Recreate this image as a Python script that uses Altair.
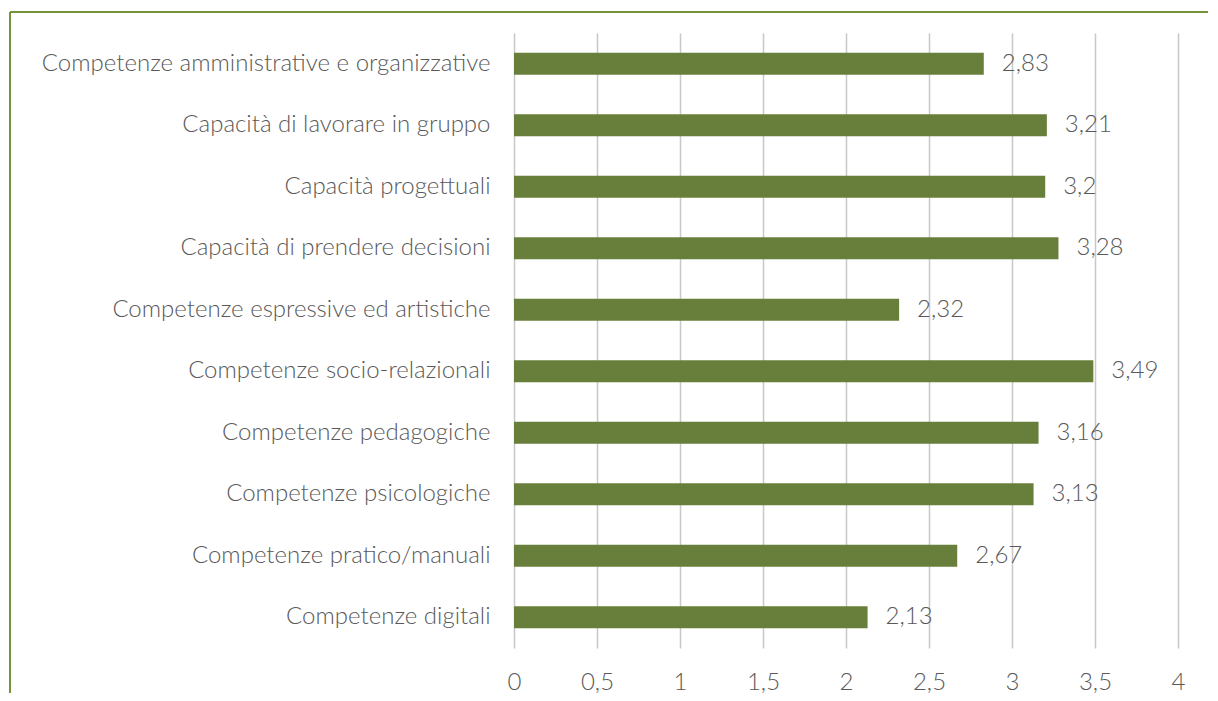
import altair as alt
import pandas as pd

categories = [
    "Competenze amministrative e organizzative",
    "Capacità di lavorare in gruppo",
    "Capacità progettuali",
    "Capacità di prendere decisioni",
    "Competenze espressive ed artistiche",
    "Competenze socio-relazionali",
    "Competenze pedagogiche",
    "Competenze psicologiche",
    "Competenze pratico/manuali",
    "Competenze digitali",
]
values = [2.83, 3.21, 3.2, 3.28, 2.32, 3.49, 3.16, 3.13, 2.67, 2.13]
x_ticks = [0, 0.5, 1, 1.5, 2, 2.5, 3, 3.5, 4]

df = pd.DataFrame({"cat": categories, "val": values})
df["label"] = [f"{v:g}".replace(".", ",") for v in values]

FONT = "Lato"
FS = 24
FW = 300
GREEN = "#687f3b"
TEXT = "#595959"

W, H = 664, 615

y_enc = alt.Y("cat:N", sort=categories, title=None,
              scale=alt.Scale(paddingInner=0.64, paddingOuter=0.32),
              axis=alt.Axis(labelFont=FONT, labelFontSize=FS, labelFontWeight=FW,
                            labelColor=TEXT, ticks=False, domain=False,
                            labelPadding=24, labelLimit=600))
x_enc = alt.X("val:Q", title=None,
              scale=alt.Scale(domain=[0, 4], nice=False),
              axis=alt.Axis(values=x_ticks, labelFont=FONT, labelFontSize=FS,
                            labelFontWeight=FW, labelColor=TEXT, ticks=False,
                            domain=False, grid=True, gridColor="#c8c8c8",
                            gridWidth=1.5, labelPadding=22, labelFlush=False,
                            labelExpr="replace(format(datum.value, ''), '.', ',')"))

bars = alt.Chart(df).mark_bar(color=GREEN).encode(x=x_enc, y=y_enc)
texts = alt.Chart(df).mark_text(align="left", dx=18, font=FONT, fontSize=FS,
                                fontWeight=FW, color=TEXT).encode(
    x="val:Q", y=alt.Y("cat:N", sort=categories), text="label:N")

border_top = alt.Chart(df).mark_rule(color="#76933c", strokeWidth=1.5).encode(
    x=alt.value(-504), x2=alt.value(760), y=alt.value(-21))
border_left = alt.Chart(df).mark_rule(color="#76933c", strokeWidth=1.5).encode(
    x=alt.value(-504), y=alt.value(-21), y2=alt.value(700))

chart = alt.layer(bars, texts, border_top, border_left).properties(
    width=W, height=H,
    autosize=alt.AutoSizeParams(type="none"),
    padding={"left": 506, "top": 25, "right": 30, "bottom": 45},
).configure_view(stroke=None)

chart.save("out.html", embed_options={"renderer": "svg", "actions": False})
